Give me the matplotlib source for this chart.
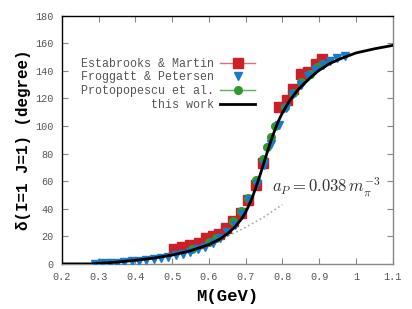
import matplotlib
matplotlib.use("Agg")
import matplotlib.pyplot as plt
from matplotlib.lines import Line2D
import numpy as np

plt.rcParams['mathtext.fontset'] = 'cm'

# this work (curve)
curve_M = [0.20, 0.28, 0.30, 0.35, 0.40, 0.45, 0.50, 0.55, 0.60, 0.63, 0.65, 0.67, 0.69, 0.70, 0.71, 0.72, 0.73, 0.74, 0.75, 0.76, 0.77, 0.78, 0.79, 0.80, 0.82, 0.84, 0.86, 0.88, 0.90, 0.93, 0.96, 1.00, 1.05, 1.10]
curve_d = [0.0, 0.0, 0.4, 1.3, 2.6, 4.2, 6.4, 9.5, 14.0, 18.0, 21.8, 26.5, 33.0, 37.5, 43.0, 49.5, 57.0, 65.0, 73.5, 82.0, 90.0, 97.5, 104.0, 109.5, 118.5, 125.5, 131.0, 136.0, 140.5, 145.5, 149.0, 153.0, 156.0, 158.5]

# effective-range (dotted) curve
eff_M = [0.28, 0.35, 0.40, 0.45, 0.50, 0.55, 0.60, 0.65, 0.70, 0.75, 0.80]
eff_d = [0.0, 1.2, 2.5, 4.0, 6.0, 8.8, 13.0, 20.0, 26.5, 34.0, 43.0]

# Estabrooks & Martin
em_M = [0.505, 0.526, 0.549, 0.572, 0.592, 0.610, 0.629, 0.647, 0.667, 0.687, 0.707, 0.728, 0.748, 0.792, 0.812, 0.830, 0.850, 0.870, 0.891, 0.909]
em_d = [10.6, 12.0, 13.8, 15.0, 18.6, 20.5, 22.0, 26.0, 31.0, 37.0, 46.0, 57.0, 73.0, 114.0, 119.0, 127.0, 138.0, 139.0, 145.0, 148.5]

# Froggatt & Petersen
fp_M = [0.29, 0.31, 0.33, 0.35, 0.37, 0.39, 0.41, 0.43, 0.45, 0.47, 0.49, 0.51, 0.53, 0.55, 0.57, 0.59, 0.61, 0.63, 0.65, 0.67, 0.69, 0.71, 0.73, 0.75, 0.77, 0.79, 0.81, 0.83, 0.85, 0.87, 0.89, 0.91, 0.93, 0.95, 0.97]
fp_d = [0.0, 0.3, 0.6, 0.9, 1.3, 1.8, 2.3, 2.9, 3.5, 4.3, 5.1, 6.2, 7.4, 8.8, 10.5, 12.6, 15.2, 18.5, 22.8, 28.5, 36.0, 46.0, 58.0, 72.0, 87.0, 101.0, 113.0, 123.0, 130.0, 136.0, 140.5, 144.0, 147.0, 149.0, 151.0]

# Protopopescu et al.
pp_M = [0.553, 0.600, 0.620, 0.667, 0.687, 0.707, 0.728, 0.748, 0.757, 0.768, 0.780, 0.807, 0.830, 0.852, 0.875, 0.893, 0.909]
pp_d = [11.0, 16.0, 19.0, 31.0, 38.6, 48.0, 61.0, 76.0, 85.0, 92.0, 100.0, 114.0, 124.0, 132.0, 138.0, 143.0, 145.0]

xticks = [0.2, 0.3, 0.4, 0.5, 0.6, 0.7, 0.8, 0.9, 1.0, 1.1]
xticklabels = ["0.2", "0.3", "0.4", "0.5", "0.6", "0.7", "0.8", "0.9", "1", "1.1"]
yticks = [0, 20, 40, 60, 80, 100, 120, 140, 160, 180]

red = '#cc1f26'
blue = '#1a7ac8'
green = '#2e9a2e'
mono = 'Liberation Mono'

fig = plt.figure(figsize=(4.12, 3.09), dpi=100)
ax = fig.add_axes([0.150, 0.146, 0.803, 0.803])

ax.plot(em_M, em_d, 's', color=red, ms=6.5, zorder=2)
ax.plot(pp_M, pp_d, 'o', color=green, ms=5.5, zorder=3)
ax.plot(fp_M, fp_d, 'v', color=blue, ms=5.5, zorder=4)
ax.plot(eff_M, eff_d, ':', color='#aaaaaa', lw=1.2, zorder=1)
ax.plot(curve_M, curve_d, '-', color='black', lw=2, zorder=5)

ax.set_xlim(0.2, 1.1)
ax.set_ylim(0, 180)
ax.set_xticks(xticks)
ax.set_xticklabels(xticklabels)
ax.set_yticks(yticks)
ax.tick_params(direction='in', length=4, width=0.8, colors='#888888', labelcolor='#555555',
               labelsize=7.3, top=True, right=True, pad=6)
for lab in ax.get_xticklabels() + ax.get_yticklabels():
    lab.set_family(mono)
for s in ['left', 'top']:
    ax.spines[s].set_color('black')
for s in ['right', 'bottom']:
    ax.spines[s].set_color('#888888')
for s in ax.spines.values():
    s.set_linewidth(1.0)

ax.set_xlabel('M(GeV)', family=mono, fontweight='bold', fontsize=12.4, labelpad=5)
ax.set_ylabel('δ(I=1 J=1) (degree)', family=['Liberation Mono', 'DejaVu Sans Mono'], fontweight='bold',
              fontsize=11.4, labelpad=3)

ax.text(0.773, 51.5, r'$a_P = 0.038\,m_\pi^{-3}$', fontsize=12, color='#333333')

handles = [
    Line2D([], [], color='#e07070', lw=1, marker='s', ms=6.5, mfc=red, mec=red),
    Line2D([], [], color='none', marker='v', ms=5.5, mfc=blue, mec=blue),
    Line2D([], [], color='#60b060', lw=1, marker='o', ms=5.5, mfc=green, mec=green),
    Line2D([], [], color='black', lw=2),
]
labels = ['Estabrooks & Martin', 'Froggatt & Petersen', 'Protopopescu et al.', 'this work']
leg = ax.legend(handles, labels, loc='upper left', bbox_to_anchor=(0.045, 0.85), frameon=False,
                markerfirst=False, prop={'family': mono, 'size': 8.4}, handlelength=3.0,
                labelspacing=0.15, handletextpad=0.5, borderaxespad=0)
for t in leg.get_texts():
    t.set_color('#555555')

fig.savefig('out.png', dpi=100)
